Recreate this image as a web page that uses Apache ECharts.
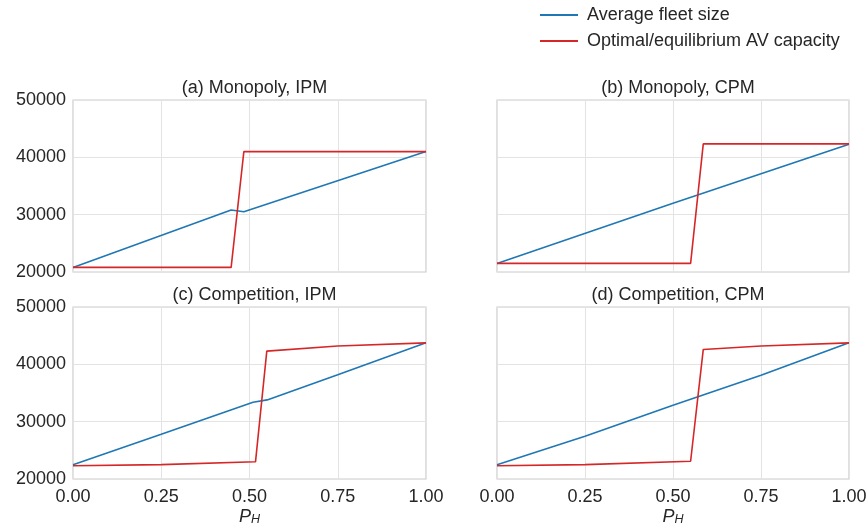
<!DOCTYPE html>
<html>
<head>
<meta charset="utf-8">
<script src="https://cdn.jsdelivr.net/npm/echarts@6/dist/echarts.min.js"></script>
<style>
  html, body { margin: 0; padding: 0; background: #fff; }
  #chart { width: 868px; height: 529px; }
</style>
</head>
<body>
<div id="chart"></div>
<script>
// panel titles
const titles = ['(a) Monopoly, IPM', '(b) Monopoly, CPM', '(c) Competition, IPM', '(d) Competition, CPM'];
const seriesNames = ['Average fleet size', 'Optimal/equilibrium AV capacity'];

// [P_H, value] pairs
const fleetA = [[0, 20800], [0.448, 30800], [0.484, 30500], [1, 41000]];
const capA   = [[0, 20800], [0.448, 20800], [0.484, 41000], [1, 41000]];

const fleetB = [[0, 21500], [0.5, 32000], [1, 42300]];
const capB   = [[0, 21500], [0.55, 21500], [0.586, 42350], [1, 42350]];

const fleetC = [[0, 22500], [0.25, 27800], [0.51, 33400], [0.55, 33800], [0.75, 38200], [1, 43750]];
const capC   = [[0, 22300], [0.25, 22500], [0.517, 23000], [0.549, 42300], [0.75, 43200], [1, 43750]];

const fleetD = [[0, 22500], [0.25, 27450], [0.5, 32850], [0.75, 38100], [1, 43750]];
const capD   = [[0, 22300], [0.25, 22500], [0.55, 23100], [0.586, 42600], [0.75, 43200], [1, 43750]];

const xTicks = [0, 0.25, 0.5, 0.75, 1];
const yTicks = [20000, 30000, 40000, 50000];

const fleets = [fleetA, fleetB, fleetC, fleetD];
const caps = [capA, capB, capC, capD];

const blue = '#1f77b4';
const red = '#d62728';
const textColor = '#262626';
const font = 'Liberation Sans, Arial, sans-serif';

const grids = [
  { left: 73, top: 100, width: 353, height: 172 },
  { left: 497, top: 100, width: 352, height: 172 },
  { left: 73, top: 307, width: 353, height: 172 },
  { left: 497, top: 307, width: 352, height: 172 }
];

const chart = echarts.init(document.getElementById('chart'));

const titleOpts = titles.map((t, i) => ({
  text: t,
  left: grids[i].left + grids[i].width / 2,
  top: i < 2 ? 74 : 281,
  textAlign: 'center',
  textStyle: { fontFamily: font, fontSize: 18, fontWeight: 'normal', color: textColor }
}));

const xAxes = grids.map((g, i) => ({
  type: 'value',
  gridIndex: i,
  min: xTicks[0],
  max: xTicks[xTicks.length - 1],
  interval: 0.25,
  axisLine: { show: false },
  axisTick: { show: false },
  splitLine: { show: true, lineStyle: { color: '#e3e3e3', width: 1 } },
  axisLabel: {
    show: i >= 2,
    formatter: v => v.toFixed(2),
    fontFamily: font, fontSize: 18, color: textColor, margin: 9,
    showMinLabel: true, showMaxLabel: true
  },
  name: i >= 2 ? '{p|P}{s|H}' : '',
  nameLocation: 'middle',
  nameGap: 28,
  nameTextStyle: {
    rich: {
      p: { fontFamily: font, fontStyle: 'italic', fontSize: 18, color: textColor },
      s: { fontFamily: font, fontStyle: 'italic', fontSize: 12.5, color: textColor, verticalAlign: 'bottom', padding: [6, 0, 0, 0] }
    }
  }
}));

const yAxes = grids.map((g, i) => ({
  type: 'value',
  gridIndex: i,
  min: yTicks[0],
  max: yTicks[yTicks.length - 1],
  interval: 10000,
  axisLine: { show: false },
  axisTick: { show: false },
  splitLine: { show: true, lineStyle: { color: '#e3e3e3', width: 1 } },
  axisLabel: {
    show: i % 2 === 0,
    formatter: v => String(v),
    fontFamily: font, fontSize: 18, color: textColor, margin: 7
  }
}));

const series = [];
for (let i = 0; i < 4; i++) {
  series.push({
    name: seriesNames[0], type: 'line', xAxisIndex: i, yAxisIndex: i,
    data: fleets[i], symbol: 'none', lineStyle: { color: blue, width: 1.6 }, itemStyle: { color: blue },
    animation: false
  });
  series.push({
    name: seriesNames[1], type: 'line', xAxisIndex: i, yAxisIndex: i,
    data: caps[i], symbol: 'none', lineStyle: { color: red, width: 1.6 }, itemStyle: { color: red },
    animation: false
  });
}

chart.setOption({
  backgroundColor: '#fff',
  animation: false,
  title: titleOpts,
  legend: {
    data: seriesNames,
    orient: 'vertical',
    left: 535,
    top: 1,
    icon: 'rect',
    itemWidth: 38,
    itemHeight: 2,
    itemGap: 8,
    textStyle: { fontFamily: font, fontSize: 18, color: textColor, padding: [0, 0, 0, 4] }
  },
  grid: grids.map(g => Object.assign({
    show: true, borderColor: '#cccccc', borderWidth: 1.2, backgroundColor: 'transparent',
    containLabel: false, outerBoundsMode: 'none'
  }, g)),
  xAxis: xAxes,
  yAxis: yAxes,
  series: series
});

window.addEventListener('resize', () => {
  chart.resize();
});
</script>
</body>
</html>
